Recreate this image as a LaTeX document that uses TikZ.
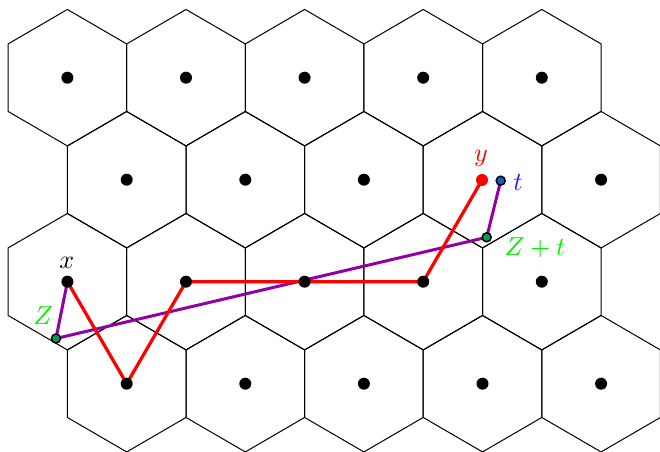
\documentclass[tikz,border=0pt]{standalone}
\definecolor{lpurple}{RGB}{145,0,165}
\definecolor{dgreen}{RGB}{0,160,80}
\definecolor{dblue}{RGB}{25,90,200}
\definecolor{lgreen}{RGB}{0,240,0}
\definecolor{lblue}{RGB}{30,30,255}
\tikzset{
  hexcell/.style={line width=0.4pt, draw=black, line join=miter},
  latdot/.style={circle, fill=black, inner sep=0pt, minimum size=4.8pt},
  reddot/.style={circle, fill=red, inner sep=0pt, minimum size=4.8pt},
  greendot/.style={circle, draw=black, fill=dgreen, line width=0.6pt, inner sep=0pt, minimum size=3.6pt},
  bluedot/.style={circle, draw=black, fill=dblue, line width=0.6pt, inner sep=0pt, minimum size=3.6pt},
  redpath/.style={red, line width=1.3pt, line join=round},
  purplepath/.style={lpurple, line width=1.2pt, line join=round},
  lbl/.style={inner sep=0pt, scale=1.04},
}
\begin{document}
\begin{tikzpicture}[x=0.4pt,y=-0.4pt]
\useasboundingbox (0,0) rectangle (660,452);
\def\hexT{68.24}
\def\hexS{33.76}
\def\hexW{59.3}
% hexagonal cells
\foreach \r in {0,1,2,3}{
  \foreach \k in {0,...,4}{
    \pgfmathsetmacro{\cx}{67.4 + 118.6*\k + 59.3*mod(\r,2)}
    \pgfmathsetmacro{\cy}{77.7 + 102*\r}
    \coordinate (c-\r-\k) at (\cx,\cy);
    \draw[hexcell] (\cx,\cy-\hexT) -- (\cx+\hexW,\cy-\hexS) -- (\cx+\hexW,\cy+\hexS)
      -- (\cx,\cy+\hexT) -- (\cx-\hexW,\cy+\hexS) -- (\cx-\hexW,\cy-\hexS) -- cycle;
  }
}
% special points
\coordinate (Y) at (482,180);
\coordinate (Z) at (56,338.5);
\coordinate (ZT) at (486.7,237.3);
\coordinate (T) at (500.7,180.7);
% paths
\draw[purplepath] (c-2-0) -- (Z) -- (ZT) -- (T);
\draw[redpath] (c-2-0) -- (c-3-0) -- (c-2-1) -- (c-2-3) -- (Y);
% lattice dots
\foreach \r in {0,1,2,3}{
  \foreach \k in {0,...,4}{
    \ifnum\r=1 \ifnum\k=3 \else \node[latdot] (d-\r-\k) at (c-\r-\k) {}; \fi
    \else \node[latdot] (d-\r-\k) at (c-\r-\k) {}; \fi
  }
}
\node[reddot] (ydot) at (Y) {};
\node[greendot] (zdot) at (Z) {};
\node[greendot] (ztdot) at (ZT) {};
\node[bluedot] (tdot) at (T) {};
% labels
\node[lbl] (lx) at (66.7,262.7) {$x$};
\node[lbl, text=red] (ly) at (481,158) {$y$};
\node[lbl, text=lblue] (lt) at (518,182.7) {$t$};
\node[lbl, text=lgreen] (lzt) at (535,247.3) {$Z+t$};
\node[lbl, text=lgreen] (lz) at (43.3,316) {$Z$};
\end{tikzpicture}
\end{document}
